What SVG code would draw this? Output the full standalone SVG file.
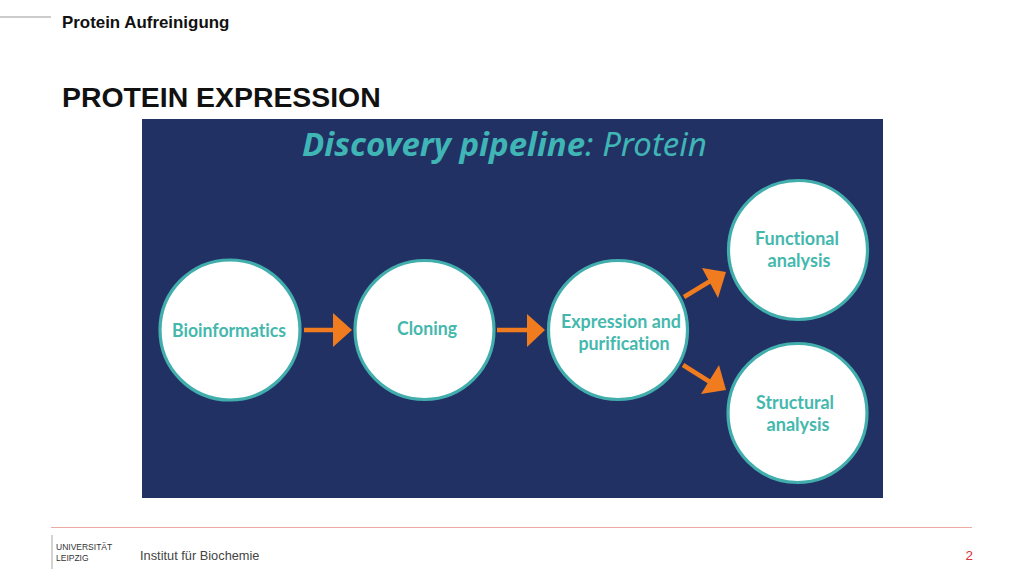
<svg xmlns="http://www.w3.org/2000/svg" width="1024" height="576" viewBox="0 0 1024 576">
<style>
.h{font-family:"Liberation Sans",Arial,sans-serif;fill:#111}
.n{fill:#fff;stroke:#41adac;stroke-width:3.200}
.l{font-family:Lato,"Open Sans",sans-serif;font-weight:700;font-size:18.500px;fill:#45b8ae;text-anchor:middle;font-variant-ligatures:none}
.a{fill:#f07c1f}
.s{stroke:#f07c1f;stroke-width:4.500;fill:none}
.f{font-family:"Liberation Sans",sans-serif}
</style>
<rect width="1024" height="576" fill="#fff"/>
<g id="header">
<line x1="0" y1="17" x2="51" y2="17" stroke="#999" stroke-width="1"/>
<text class="h" x="62" y="27.500" font-size="16.900" font-weight="700">Protein Aufreinigung</text>
<text class="h" x="62" y="107" font-size="28.400" font-weight="700">PROTEIN EXPRESSION</text>
</g>
<rect id="panel" x="142" y="119" width="741" height="379" fill="#223163"/>
<text id="panel-title" x="302" y="156" font-family="'Noto Sans','Open Sans',sans-serif" font-size="33" font-style="italic" fill="#3fb5b5" textLength="405" lengthAdjust="spacingAndGlyphs"><tspan font-weight="700">Discovery pipeline</tspan><tspan>: Protein</tspan></text>
<g id="connectors">
<line class="s" x1="304" y1="330" x2="336" y2="330"/>
<polygon class="a" points="333,313 352,330 333,347"/>
<line class="s" x1="497" y1="330" x2="530" y2="330"/>
<polygon class="a" points="527,314 545,330 527,347"/>
<line class="s" x1="684" y1="297" x2="712" y2="280"/>
<polygon class="a" points="702,268 726,272 718,298"/>
<line class="s" x1="683" y1="365" x2="710" y2="382"/>
<polygon class="a" points="719,365 726,390 701,394"/>
</g>
<g id="bioinformatics"><circle class="n" cx="230" cy="330" r="70"/><text class="l" x="229" y="337" textLength="114" lengthAdjust="spacingAndGlyphs">Bioinformatics</text></g>
<g id="cloning"><circle class="n" cx="424.500" cy="330" r="69.500"/><text class="l" x="427" y="335" textLength="60" lengthAdjust="spacingAndGlyphs">Cloning</text></g>
<g id="expression"><circle class="n" cx="618" cy="330" r="69.500"/><text class="l" x="621" y="328" textLength="120" lengthAdjust="spacingAndGlyphs">Expression and</text><text class="l" x="624" y="350" textLength="91" lengthAdjust="spacingAndGlyphs">purification</text></g>
<g id="functional"><circle class="n" cx="798" cy="250" r="69.500"/><text class="l" x="797" y="245" textLength="84" lengthAdjust="spacingAndGlyphs">Functional</text><text class="l" x="799" y="267" textLength="63" lengthAdjust="spacingAndGlyphs">analysis</text></g>
<g id="structural"><circle class="n" cx="797.500" cy="413" r="69.500"/><text class="l" x="795" y="409" textLength="78" lengthAdjust="spacingAndGlyphs">Structural</text><text class="l" x="798" y="431" textLength="63" lengthAdjust="spacingAndGlyphs">analysis</text></g>
<g id="footer">
<line x1="51" y1="527.500" x2="972" y2="527.500" stroke="#ecaaa2" stroke-width="1"/>
<line x1="52" y1="535" x2="52" y2="569" stroke="#c4c4c4" stroke-width="1.500"/>
<text class="f" x="56" y="550" font-size="8.500" fill="#333">UNIVERSITÄT</text>
<text class="f" x="56" y="561" font-size="8.500" fill="#333">LEIPZIG</text>
<text class="f" x="140" y="560" font-size="12.800" fill="#444">Institut für Biochemie</text>
<text class="f" x="973" y="560" text-anchor="end" font-size="13.500" fill="#d8343a">2</text>
</g>
</svg>
